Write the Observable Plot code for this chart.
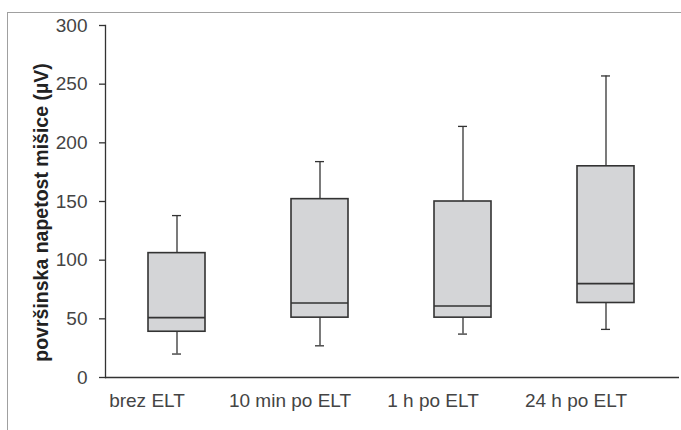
<!DOCTYPE html>
<html>
<head>
<meta charset="utf-8">
<script src="https://cdn.jsdelivr.net/npm/d3@7"></script>
<script src="https://cdn.jsdelivr.net/npm/@observablehq/plot@0.6"></script>
<style>
  html, body { margin: 0; padding: 0; background: #fff; }
  #wrap { position: relative; width: 681px; height: 430px; overflow: hidden; }
  #border { position: absolute; left: 7px; top: 12px; right: -5px; bottom: -5px;
            border-top: 1px solid #a0a0a0; border-left: 1px solid #a0a0a0; }
  #chart { position: absolute; left: 0; top: 0; }
</style>
</head>
<body>
<div id="wrap"><div id="border"></div><div id="chart"></div></div>
<script>
const categories = ["brez ELT", "10 min po ELT", "1 h po ELT", "24 h po ELT"];
const whiskerLow  = [20, 27, 37, 41];
const q1          = [39, 51, 51, 63.5];
const median      = [51, 63.5, 61, 80];
const q3          = [106, 152, 150, 180];
const whiskerHigh = [138, 184, 214, 257];
const yTicks = [0, 50, 100, 150, 200, 250, 300];
const yLabel = "površinska napetost mišice (µV)";

const data = categories.map((c, i) => ({
  cat: c, lo: whiskerLow[i], q1: q1[i], med: median[i], q3: q3[i], hi: whiskerHigh[i]
}));

const ink = "#333";
const font = "'Liberation Sans', Arial, sans-serif";
const plot = Plot.plot({
  width: 681,
  height: 430,
  marginLeft: 105,
  marginRight: 4,
  marginTop: 25,
  marginBottom: 53,
  style: { fontFamily: font, fontSize: "19px", color: "#444", background: "transparent" },
  x: { domain: categories, paddingInner: 0.6, paddingOuter: 0.3, label: null },
  y: { domain: [0, 300], label: null },
  marks: [
    Plot.ruleX(data, { x: "cat", y1: "lo", y2: "hi", stroke: ink, strokeWidth: 1.3 }),
    Plot.tickY(data, { x: "cat", y: "lo", stroke: ink, strokeWidth: 1.3, insetLeft: 24, insetRight: 24 }),
    Plot.tickY(data, { x: "cat", y: "hi", stroke: ink, strokeWidth: 1.3, insetLeft: 24, insetRight: 24 }),
    Plot.barY(data, { x: "cat", y1: "q1", y2: "q3", fill: "#d4d5d7", stroke: ink, strokeWidth: 1.6 }),
    Plot.tickY(data, { x: "cat", y: "med", stroke: ink, strokeWidth: 1.6 }),
    Plot.ruleY([0], { stroke: ink, strokeWidth: 1.3, insetRight: -2 }),
    Plot.frame({ anchor: "left", stroke: ink, strokeWidth: 1.3 }),
    Plot.axisY({ ticks: yTicks, tickSize: 6, tickPadding: 12, stroke: ink, strokeWidth: 1.3,
      label: null, fill: "#444", fontSize: 19, fontFamily: font }),
    Plot.axisX({ tickSize: 0, tickPadding: 16, label: null, dx: -30, fill: "#444",
      fontSize: 19, fontFamily: font }),
    Plot.text([yLabel], { frameAnchor: "left", rotate: -90, dx: -64, dy: 11, text: d => d,
      fontWeight: "bold", fontSize: 19.5, fontFamily: font, fill: "#222", textAnchor: "middle" })
  ]
});
document.getElementById("chart").appendChild(plot);
</script>
</body>
</html>
